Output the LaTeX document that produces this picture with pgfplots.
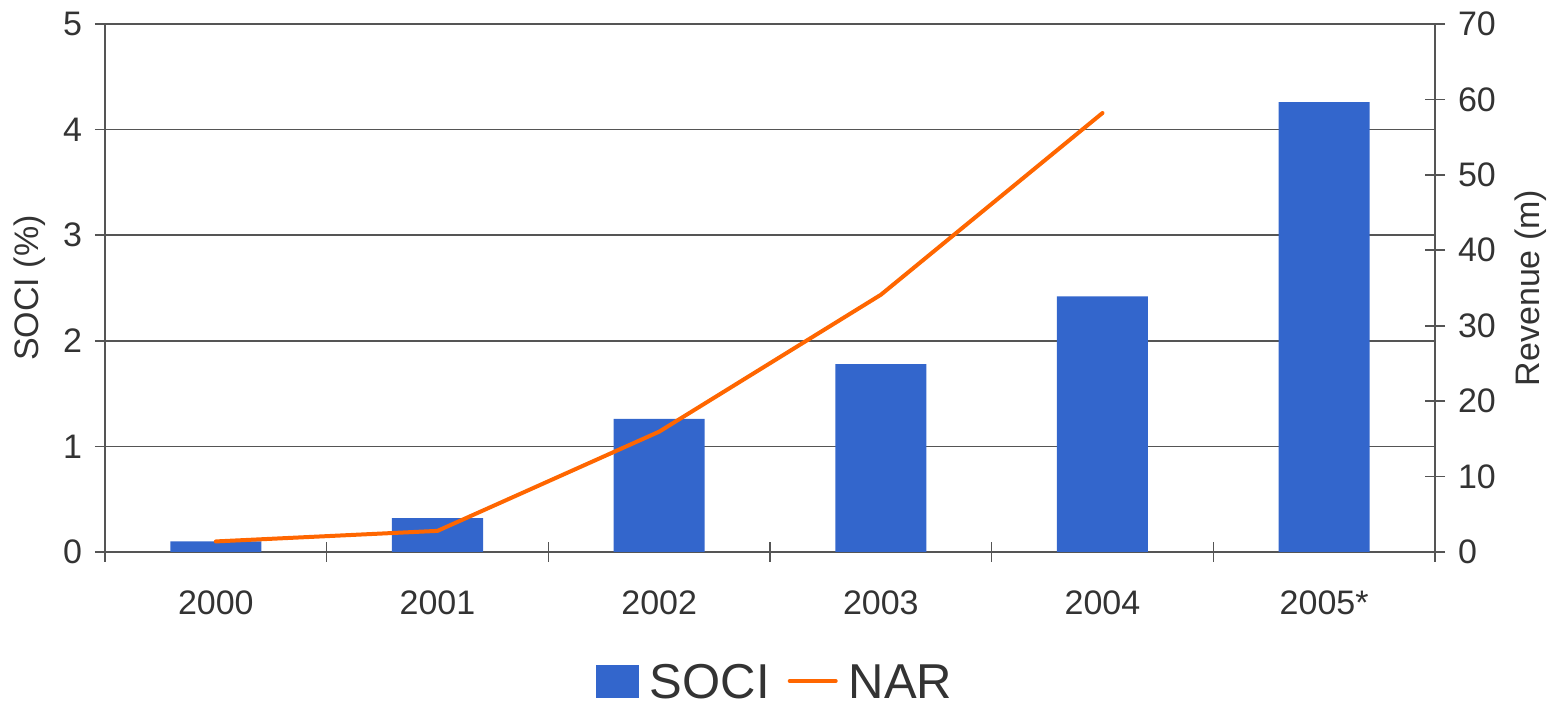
\documentclass[border=0pt]{standalone}
\usepackage{pgfplots}
\pgfplotsset{compat=1.18}
\usepackage{fontspec}
\setmainfont{Liberation Sans}
\definecolor{barblue}{HTML}{3366CC}
\definecolor{lineorange}{HTML}{FF6600}
\definecolor{txt}{HTML}{333333}
\definecolor{axgray}{HTML}{555555}
\begin{document}
\begin{tikzpicture}
\useasboundingbox (-52.5pt,-76pt) rectangle (724.5pt,276pt);
\begin{axis}[
  at={(0,0)}, anchor=south west,
  scale only axis, width=665pt, height=264pt,
  xmin=-0.5, xmax=5.5, ymin=0, ymax=5,
  axis x line*=bottom, axis y line*=left,
  axis line style={axgray, line width=0.8pt},
  xtick={0,...,5},
  xticklabels={2000,2001,2002,2003,2004,2005*},
  minor xtick={-0.5,0.5,...,5.5},
  ytick={0,...,5},
  major tick length=10pt, minor tick length=10pt,
  tick align=center,
  xtick style={draw=none},
  minor x tick style={draw=axgray, line width=0.8pt},
  ytick style={axgray, line width=0.8pt},
  ymajorgrids, grid style={axgray, line width=0.8pt},
  ticklabel style={font=\fontsize{17}{19}\selectfont, text=txt},
  /pgf/number format/assume math mode=true,
  xticklabel style={yshift=-11pt},
  yticklabel style={xshift=-3pt},
  ylabel={SOCI (\%)},
  ylabel style={font=\fontsize{17}{19}\selectfont, text=txt, at={(axis description cs:-0.05677,0.5)}, anchor=center},
  clip=false,
]
\addplot[ybar, bar width=45.5pt, fill=barblue, draw=none] coordinates {
 (0,0.10) (1,0.32) (2,1.26) (3,1.78) (4,2.42) (5,4.26)
};
\end{axis}
\begin{axis}[
  at={(0,0)}, anchor=south west,
  scale only axis, width=665pt, height=264pt,
  xmin=-0.5, xmax=5.5, ymin=0, ymax=70,
  axis x line=none, axis y line*=right,
  axis line style={axgray, line width=0.8pt},
  ytick={0,10,...,70},
  major tick length=10pt, tick align=center,
  ytick style={axgray, line width=0.8pt},
  ticklabel style={font=\fontsize{17}{19}\selectfont, text=txt},
  /pgf/number format/assume math mode=true,
  yticklabel style={xshift=3pt},
  ylabel={Revenue (m)},
  ylabel style={font=\fontsize{17}{19}\selectfont, text=txt, at={(axis description cs:1.0722,0.5)}, anchor=center},
  legend style={at={(0.5038,-0.2444)}, anchor=center, draw=none, fill=none,
    font=\fontsize{24.5}{26}\selectfont, text=txt, legend columns=-1,
    nodes={inner sep=1pt, text height=17.5pt, text depth=0pt},
    /tikz/every odd column/.append style={column sep=4.5pt},
    /tikz/every even column/.append style={column sep=8pt}},
  legend image code/.code={\draw[#1] (0pt,0pt) -- (23pt,0pt);},
  clip=false,
]
\addlegendimage{area legend, fill=barblue, draw=none, legend image code/.code={\fill[barblue] (0pt,-8.25pt) rectangle (21.5pt,8.25pt);}}
\addlegendentry{SOCI}
\addplot[lineorange, line width=2pt, line cap=round] coordinates {
 (0,1.4) (1,2.8) (2,15.95) (3,34.1) (4,58.2)
};
\addlegendentry{NAR}
\end{axis}
\end{tikzpicture}
\end{document}
